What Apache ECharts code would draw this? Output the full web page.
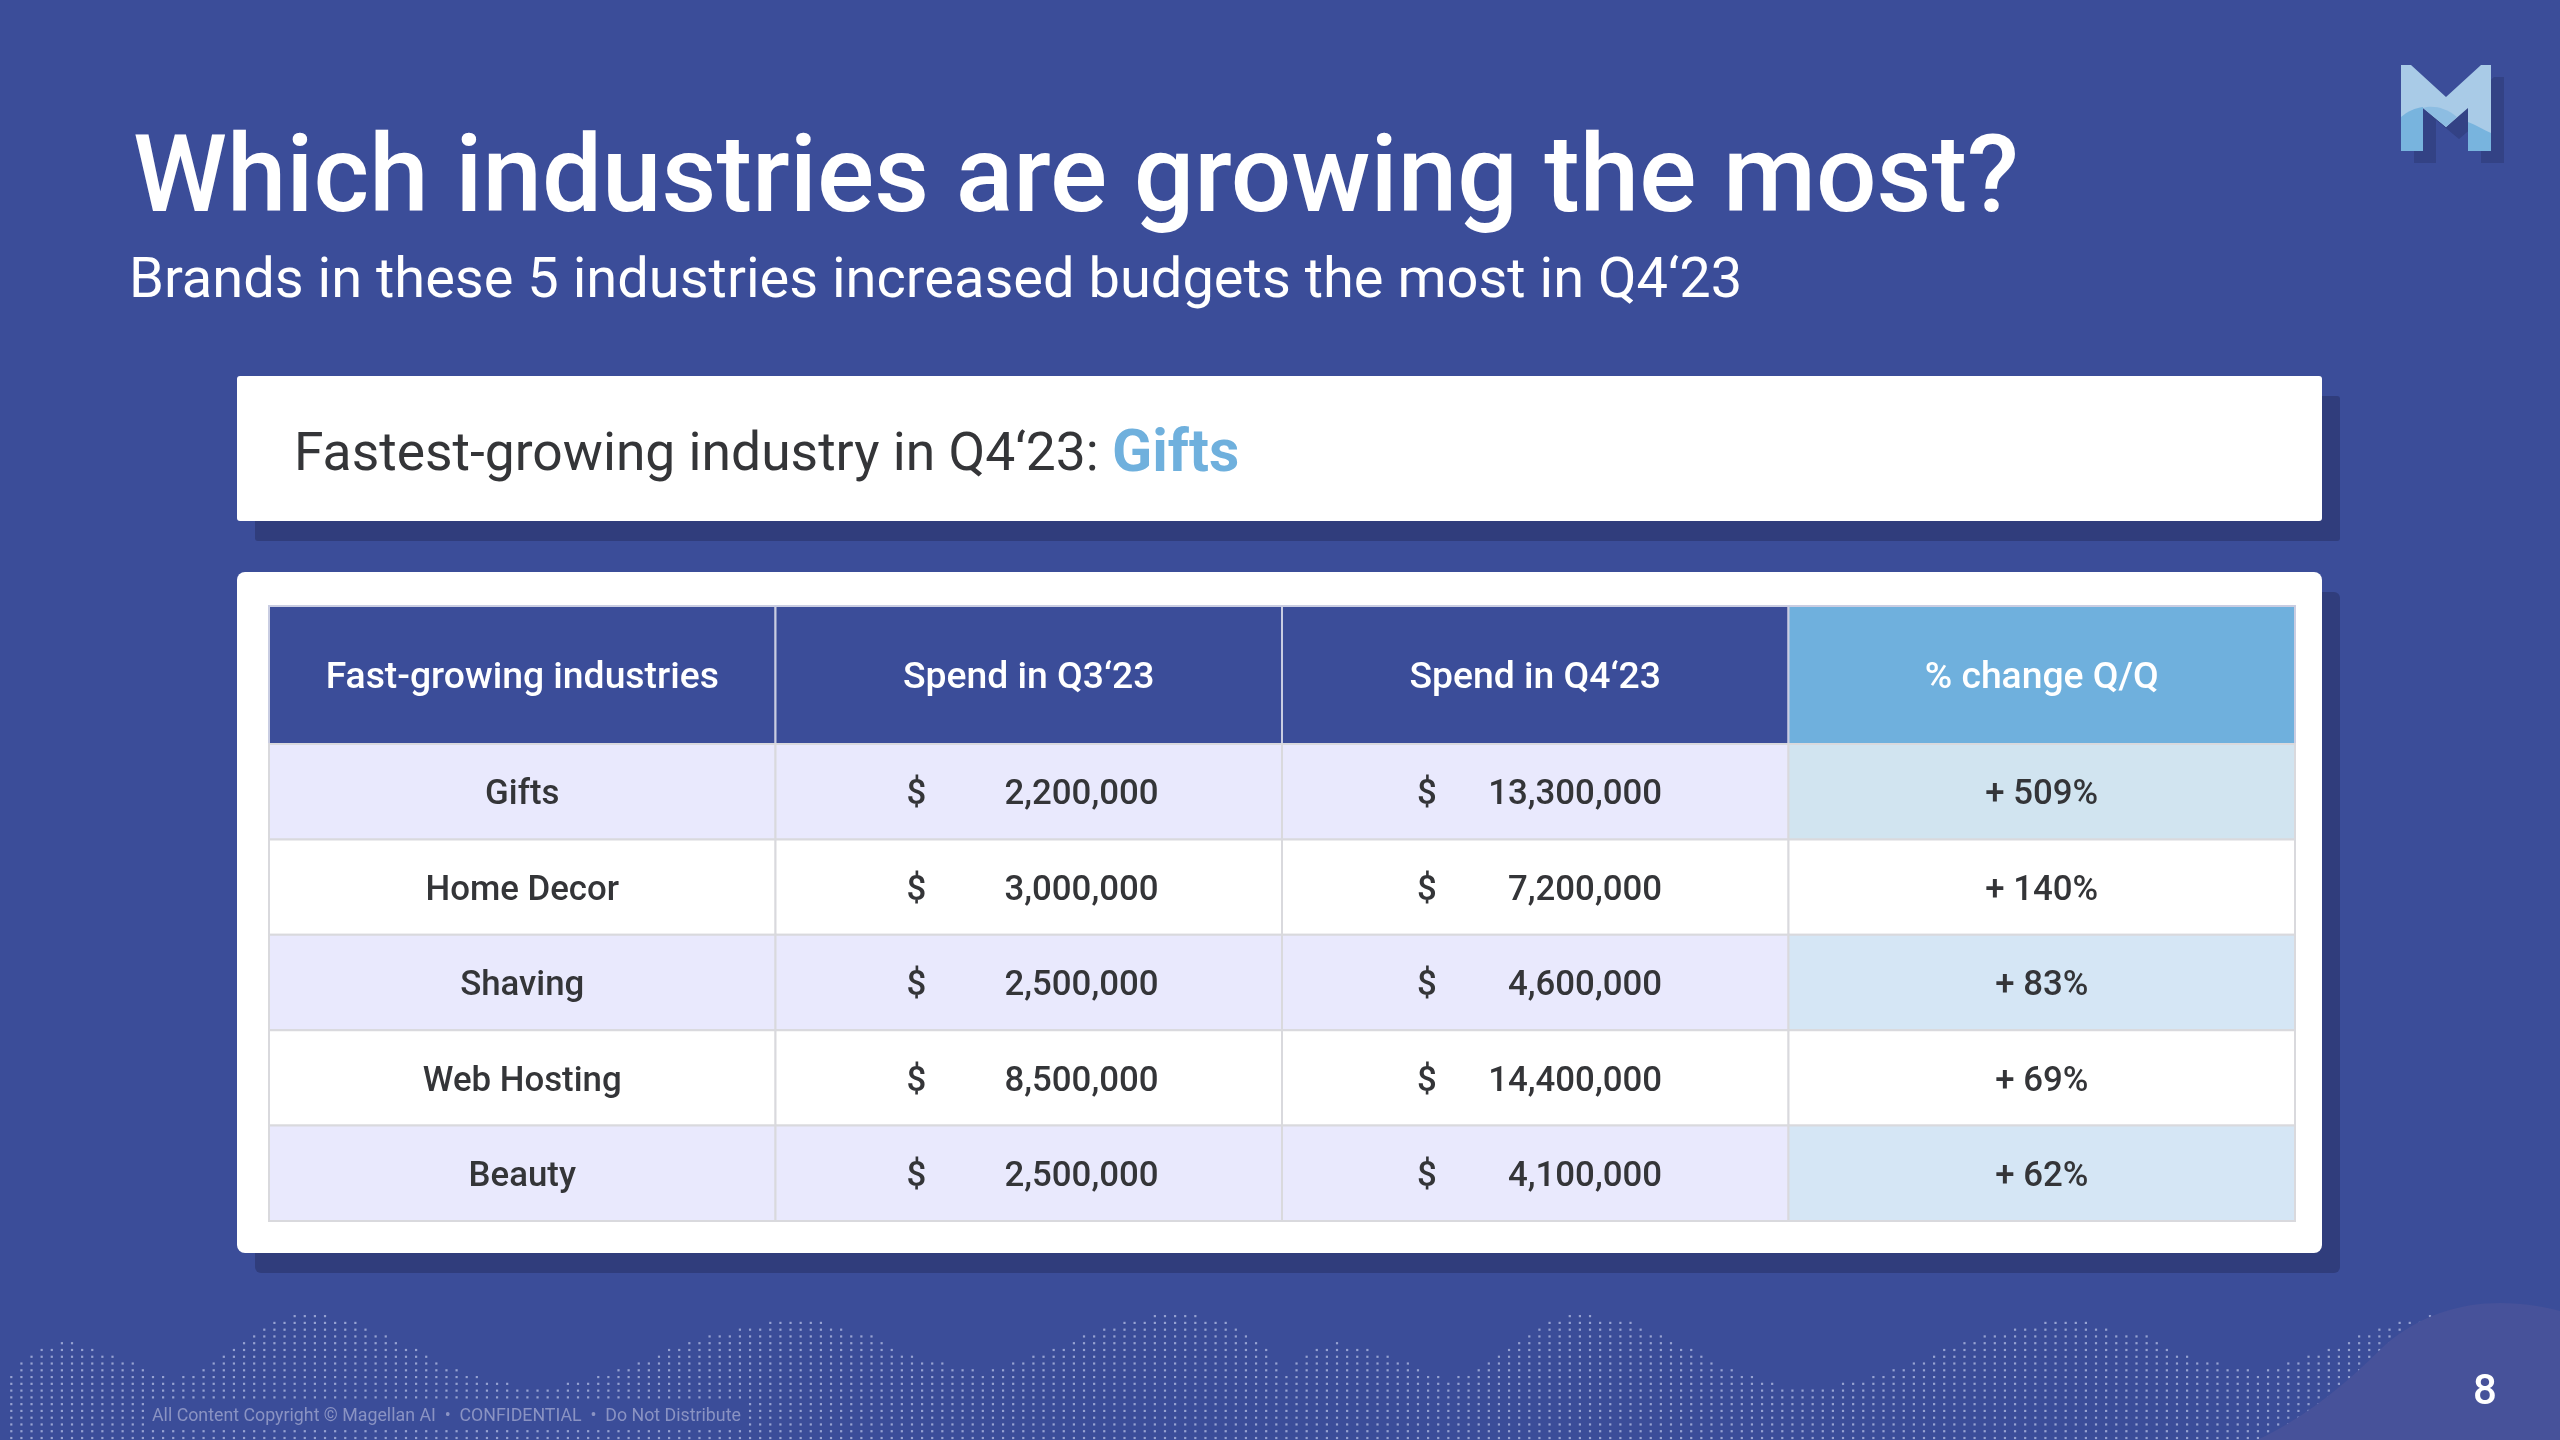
<!DOCTYPE html>
<html>
<head>
<meta charset="utf-8">
<title>Which industries are growing the most?</title>
<script src="https://cdn.jsdelivr.net/npm/echarts@6/dist/echarts.min.js"></script>
<style>
  html, body { margin: 0; padding: 0; background: #3b4d99; }
  #chart { width: 2560px; height: 1440px; }
</style>
</head>
<body>
<div id="chart"></div>
<script>
const tableHeaders = ['Fast-growing industries', 'Spend in Q3‘23', 'Spend in Q4‘23', '% change Q/Q'];
const industries = ['Gifts', 'Home Decor', 'Shaving', 'Web Hosting', 'Beauty'];
const spendQ3 = [2200000, 3000000, 2500000, 8500000, 2500000];
const spendQ4 = [13300000, 7200000, 4600000, 14400000, 4100000];
const changeQoQ = [509, 140, 83, 69, 62];

const pageTitle = 'Which industries are growing the most?';
const pageSubtitle = 'Brands in these 5 industries increased budgets the most in Q4‘23';
const calloutLabel = 'Fastest-growing industry in Q4‘23: ';
const calloutValue = 'Gifts';
const footerNote = 'All Content Copyright © Magellan AI  •  CONFIDENTIAL  •  Do Not Distribute';
const pageNumber = '8';

// dotted hills in the footer: x spans of dots for each row, counted up from the bottom row
const hillRows = [
    [[11, 2560]],
    [[11, 2560]],
    [[11, 143], [749, 2560]],
    [[11, 143], [749, 2560]],
    [[11, 143], [749, 2560]],
    [[11, 143], [749, 2560]],
    [[11, 2560]],
    [[11, 2560]],
    [[11, 509], [566, 1780], [1840, 2560]],
    [[11, 164], [183, 478], [597, 1437], [1456, 1751], [1869, 2560]],
    [[22, 143], [203, 458], [617, 974], [992, 1278], [1293, 1417], [1477, 1732], [1890, 2247], [2265, 2560]],
    [[22, 133], [213, 438], [638, 944], [1011, 1278], [1293, 1407], [1486, 1711], [1910, 2217], [2285, 2560]],
    [[32, 113], [223, 428], [658, 914], [1033, 1267], [1305, 1386], [1496, 1701], [1931, 2186], [2305, 2560]],
    [[42, 93], [233, 417], [668, 894], [1052, 1267], [1314, 1366], [1506, 1691], [1941, 2166], [2325, 2560]],
    [[62, 72], [243, 398], [688, 884], [1072, 1257], [1335, 1345], [1516, 1670], [1961, 2155], [2346, 2560]],
    [[254, 388], [708, 873], [1083, 1247], [1527, 1660], [1982, 2145], [2356, 2388]],
    [[264, 366], [738, 843], [1103, 1237], [1537, 1639], [2012, 2114], [2376, 2408]],
    [[273, 357], [769, 822], [1122, 1227], [1547, 1630], [2043, 2094], [2396, 2418]],
    [[293, 327], [1153, 1195], [1567, 1598], [2425, 2430]]
];

const BLUE = '#3b4d99';
const SHADOW = '#303d7c';
const INK = '#343538';
const SKY = '#6fb0dd';
const LINE = '#d9d9dd';
const FONT = 'Roboto';

function money(v) {
    return v.toLocaleString('en-US');
}

function hillDots() {
    const dots = [];
    hillRows.forEach((spans, r) => {
        const y = 1438 - r * 6.77;
        spans.forEach(span => {
            for (let k = 0; k < 253; k++) {
                const x = 11.3 + k * 10.12;
                if (x >= span[0] - 2 && x <= span[1] + 2) dots.push([x, y]);
            }
        });
    });
    return dots;
}

// one row per cell: [col, row, background]
const headCells = tableHeaders.map((h, i) => [i, 0, i === 3 ? SKY : BLUE]);
const bodyCells = [];
industries.forEach((name, r) => {
    for (let c = 0; c < 4; c++) {
        let fill = r % 2 === 0 ? '#e9e9fd' : '#ffffff';
        if (c === 3 && r % 2 === 0) fill = r === 0 ? '#d1e4f0' : '#d5e6f5';
        bodyCells.push([c, r, fill]);
    }
});

function cellRect(api) {
    const c = api.coord([api.value(0), api.value(1)]);
    const s = api.size([1, 1]);
    return { x: c[0] - s[0] / 2, y: c[1] - s[1] / 2, width: s[0], height: s[1], cx: c[0], cy: c[1] };
}

function cellText(text, x, y, align, fill, size) {
    return {
        type: 'text',
        style: {
            text: text, x: x, y: y + 4, align: align, verticalAlign: 'middle',
            fill: fill, fontFamily: FONT, fontSize: size, fontWeight: 500
        }
    };
}

function renderHead(params, api) {
    const r = cellRect(api);
    return {
        type: 'group',
        children: [
            { type: 'rect', shape: { x: r.x, y: r.y, width: r.width, height: r.height },
              style: { fill: api.value(2), stroke: '#c9cde2', lineWidth: 2 } },
            cellText(tableHeaders[api.value(0)], r.cx, r.cy, 'center', '#ffffff', 37.3)
        ]
    };
}

function renderBody(params, api) {
    const col = api.value(0);
    const row = api.value(1);
    const r = cellRect(api);
    const children = [
        { type: 'rect', shape: { x: r.x, y: r.y, width: r.width, height: r.height },
          style: { fill: api.value(2), stroke: LINE, lineWidth: 2 } }
    ];
    if (col === 0) {
        children.push(cellText(industries[row], r.cx, r.cy, 'center', INK, 34.8));
    } else if (col === 1) {
        children.push(cellText('$', r.x + 141, r.cy, 'center', INK, 34.8));
        children.push(cellText(money(spendQ3[row]), r.x + 383, r.cy, 'right', INK, 34.8));
    } else if (col === 2) {
        children.push(cellText('$', r.x + 145, r.cy, 'center', INK, 34.8));
        children.push(cellText(money(spendQ4[row]), r.x + 380, r.cy, 'right', INK, 34.8));
    } else {
        children.push(cellText('+ ' + changeQoQ[row] + '%', r.cx, r.cy, 'center', INK, 34.8));
    }
    return { type: 'group', children: children };
}

// corner blob, page number, footer note and logo sit over the dots
function renderDecor() {
    const outline = [[2401, 65], [2411, 65], [2446, 97], [2481, 65], [2491, 65], [2491, 151], [2468, 151], [2468, 108], [2446, 127], [2423, 108], [2423, 151], [2401, 151]];
    return {
        type: 'group',
        children: [
            { type: 'path', shape: { pathData: 'M2257 1440 C2310 1415 2350 1380 2385 1345 C2420 1315 2460 1303 2500 1303 C2525 1303 2545 1307 2560 1311 L2560 1440 Z' },
              style: { fill: '#47529a' } },
            { type: 'text', style: { text: pageNumber, x: 2485, y: 1393, align: 'center', verticalAlign: 'middle',
                fill: '#ffffff', fontFamily: FONT, fontSize: 42, fontWeight: 500 } },
            { type: 'text', style: { text: footerNote, x: 152, y: 1417, align: 'left', verticalAlign: 'middle',
                fill: '#8a93c3', fontFamily: FONT, fontSize: 17.8, fontWeight: 400 } },
            { type: 'polygon', x: 13, y: 12, shape: { points: outline }, style: { fill: '#334285' } },
            { type: 'polygon', shape: { points: outline }, style: { fill: '#a9cbe7' } },
            { type: 'path', shape: { pathData: 'M2401 117 C2408 111 2415 108 2423 107 L2423 151 L2401 151 Z' }, style: { fill: '#78b4de' } },
            { type: 'path', shape: { pathData: 'M2423 108 C2432 105 2445 107 2457 117 L2446 127 Z' }, style: { fill: '#8dbde2' } },
            { type: 'path', shape: { pathData: 'M2468 122 C2476 125 2484 130 2491 133 L2491 151 L2468 151 Z' }, style: { fill: '#78b4de' } }
        ]
    };
}

const chart = echarts.init(document.getElementById('chart'));

chart.setOption({
    animation: false,
    backgroundColor: BLUE,
    title: [
        { text: pageTitle, left: 128, top: 126,
          textStyle: { color: '#ffffff', fontFamily: FONT, fontSize: 106.8, fontWeight: 500 } },
        { text: pageSubtitle, left: 124, top: 250,
          textStyle: { color: '#ffffff', fontFamily: FONT, fontSize: 56, fontWeight: 400 } },
        { text: '{a|' + calloutLabel + '}{b|' + calloutValue + '}', left: 289, top: 422,
          textStyle: { rich: {
              a: { color: INK, fontFamily: FONT, fontSize: 53.4, fontWeight: 400 },
              b: { color: SKY, fontFamily: FONT, fontSize: 59, fontWeight: 700 }
          } } }
    ],
    grid: [
        { left: 0, top: 0, width: 2560, height: 1440, show: false },
        { left: 269, top: 606, width: 2026, height: 138, show: false },
        { left: 269, top: 744, width: 2026, height: 477, show: false }
    ],
    xAxis: [
        { gridIndex: 0, type: 'value', min: 0, max: 2560, show: false },
        { gridIndex: 1, type: 'category', data: [0, 1, 2, 3], show: false },
        { gridIndex: 2, type: 'category', data: [0, 1, 2, 3], show: false }
    ],
    yAxis: [
        { gridIndex: 0, type: 'value', min: 0, max: 1440, inverse: true, show: false },
        { gridIndex: 1, type: 'category', data: [0], show: false },
        { gridIndex: 2, type: 'category', data: [0, 1, 2, 3, 4], inverse: true, show: false }
    ],
    series: [
        { type: 'scatter', xAxisIndex: 0, yAxisIndex: 0, data: hillDots(), silent: true, z: 1,
          symbol: 'rect', symbolSize: 2.2, itemStyle: { color: '#aeb8e0' } },
        { type: 'custom', xAxisIndex: 0, yAxisIndex: 0, data: [[0, 0]], renderItem: renderDecor, silent: true, z: 2,
          clip: false },
        { type: 'custom', xAxisIndex: 1, yAxisIndex: 1, data: headCells, renderItem: renderHead, silent: true, z: 3,
          encode: { x: 0, y: 1 } },
        { type: 'custom', xAxisIndex: 2, yAxisIndex: 2, data: bodyCells, renderItem: renderBody, silent: true, z: 3,
          encode: { x: 0, y: 1 } }
    ],
    graphic: { elements: [
        { type: 'rect', z: 0, shape: { x: 255, y: 396, width: 2085, height: 145, r: 3 }, style: { fill: SHADOW } },
        { type: 'rect', z: 0, shape: { x: 255, y: 592, width: 2085, height: 681, r: 6 }, style: { fill: SHADOW } },
        { type: 'rect', z: 1, shape: { x: 237, y: 376, width: 2085, height: 145, r: 3 }, style: { fill: '#ffffff' } },
        { type: 'rect', z: 1, shape: { x: 237, y: 572, width: 2085, height: 681, r: 8 }, style: { fill: '#ffffff' } }
    ] }
});
</script>
</body>
</html>
